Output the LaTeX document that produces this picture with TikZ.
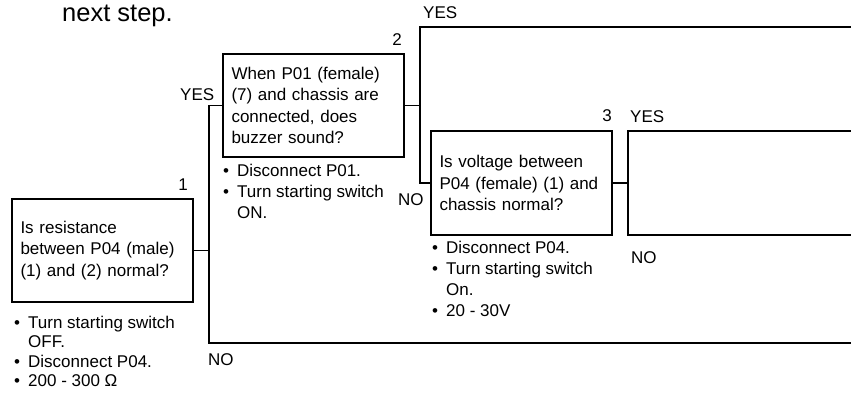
\documentclass[tikz,border=0pt]{standalone}
\usepackage{fontspec}
\setmainfont{Liberation Sans}
\usetikzlibrary{positioning,calc}
\tikzset{
    qbox/.style = {rectangle, draw=black, line width=1.1pt, text width=164pt, inner xsep=8.5pt,
                   inner ysep=0pt, minimum height=103pt, align=left, font=\fontsize{17}{21.3}\selectfont},
    note/.style = {anchor=north west, inner sep=0pt, align=left, font=\fontsize{17}{21}\selectfont},
    tag/.style  = {anchor=base west, inner sep=0pt, font=\fontsize{17}{21}\selectfont},
    wire/.style = {draw=black, line width=1.1pt}
}
\newcommand{\bul}{\makebox[14pt][l]{\textbullet}}
\newcommand{\ind}{\hspace*{14pt}}

\begin{document}
\begin{tikzpicture}[x=1pt, y=-1pt]
    \useasboundingbox (0,0) rectangle (851,394);

    % Tail of the text above
    \node[anchor=base west, inner sep=0pt, font=\fontsize{25.5}{30}\selectfont] (prev) at (62,21) {next step.};

    % Question boxes
    \node[qbox] (q1) at (102.5,250.5) {Is resistance\\between P04 (male)\\(1) and (2) normal?};
    \node[qbox] (q2) at (313.5,105.5) {When P01 (female)\\(7) and chassis are\\connected, does\\buzzer sound?};
    \node[qbox, minimum height=104pt] (q3) at (521.5,183) {Is voltage between\\P04 (female) (1) and\\chassis normal?};

    % Step numbers
    \node[tag, anchor=base east] (n1) at (188,190) {1};
    \node[tag, anchor=base east] (n2) at (402,45) {2};
    \node[tag, anchor=base east] (n3) at (612,121) {3};

    % Check notes
    \node[note, font=\fontsize{17}{19.5}\selectfont] (c1) at (14,315.8)
        {\bul Turn starting switch\\\ind OFF.\\\bul Disconnect P04.\\\bul 200 - 300 Ω};
    \node[note] (c2) at (223,163.8) {\bul Disconnect P01.\\\bul Turn starting switch\\\ind ON.};
    \node[note] (c3) at (432,240.8) {\bul Disconnect P04.\\\bul Turn starting switch\\\ind On.\\\bul 20 - 30V};

    % Branch points and open ends
    \coordinate (b1) at (209,343);
    \coordinate (e1) at (851,343);
    \coordinate (b2) at (420,27);
    \coordinate (e2) at (851,27);
    \coordinate (r3t) at (628,131);
    \coordinate (r3b) at (628,235);
    \coordinate (e3t) at (851,131);
    \coordinate (e3b) at (851,235);

    % Step 1
    \draw[wire] (q1.east) -- (q1.east -| b1);
    \draw[wire] (q2.west) -| (b1) -- (e1);
    \node[tag] (y1) at (180,100) {YES};
    \node[tag] (o1) at (208,365) {NO};

    % Step 2
    \draw[wire] (q2.east) -- (q2.east -| b2);
    \draw[wire] (e2) -- (b2) |- (q3.west);
    \node[tag] (y2) at (423,18) {YES};
    \node[tag] (o2) at (398,205) {NO};

    % Step 3
    \draw[wire] (q3.east) -- (q3.east -| r3t);
    \draw[wire] (e3t) -- (r3t) -- (r3b) -- (e3b);
    \node[tag] (y3) at (630,122) {YES};
    \node[tag] (o3) at (631,263) {NO};
\end{tikzpicture}
\end{document}
